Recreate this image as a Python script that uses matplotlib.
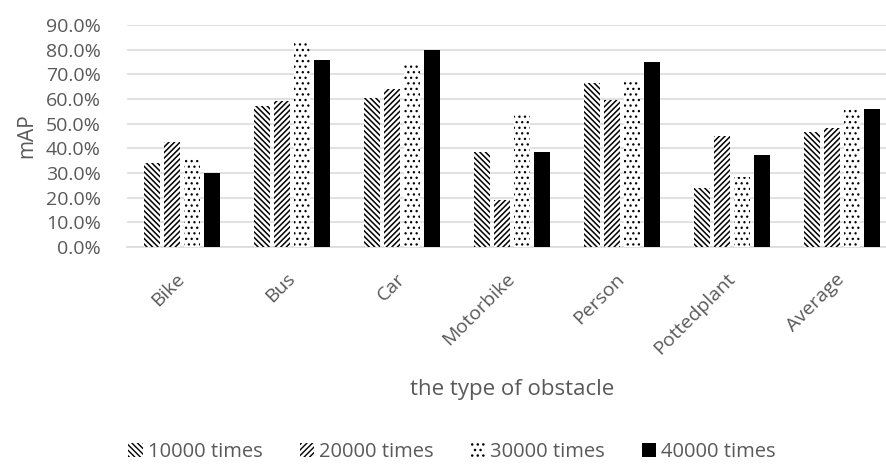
import numpy as np
import matplotlib
matplotlib.use('Agg')
import matplotlib.pyplot as plt
from matplotlib.ticker import FuncFormatter

categories = ['Bike', 'Bus', 'Car', 'Motorbike', 'Person', 'Pottedplant', 'Average']
series_names = ['10000 times', '20000 times', '30000 times', '40000 times']

# mAP in percent
map_10000 = [34.0, 57.2, 60.3, 38.4, 66.4, 23.8, 46.8]
map_20000 = [42.4, 59.2, 64.1, 19.1, 59.6, 45.0, 48.4]
map_30000 = [35.5, 83.2, 74.5, 53.5, 67.0, 28.2, 56.6]
map_40000 = [30.0, 75.8, 79.9, 38.4, 75.0, 37.4, 56.1]

y_ticks = [0, 10, 20, 30, 40, 50, 60, 70, 80, 90]

plt.rcParams['font.family'] = ['Open Sans', 'DejaVu Sans']

text_gray = '#595959'
grid_gray = '#d9d9d9'

fig = plt.figure(figsize=(8.86, 4.70), dpi=100)
ax = fig.add_axes([127 / 886, 1 - 247 / 470, 770 / 886, 222 / 470])

x = np.arange(len(categories))
step = 20 / 110
width = 16 / 110
all_series = [map_10000, map_20000, map_30000, map_40000]
hatches = ['\\' * 6, '/' * 6, '...', None]
hatch_widths = [1.1, 1.1, 0.9, 1.0]

for i, (name, vals) in enumerate(zip(series_names, all_series)):
    offset = (i - 1.5) * step
    plt.rcParams['hatch.linewidth'] = hatch_widths[i]
    if hatches[i] is None:
        ax.bar(x + offset, vals, width, color='black', linewidth=0, label=name, zorder=3)
    else:
        ax.bar(x + offset, vals, width, facecolor='white', edgecolor='black',
               hatch=hatches[i], linewidth=0, label=name, zorder=3)

ax.set_xlim(-0.5, len(categories) - 0.5)
ax.set_ylim(0, 90)
ax.set_yticks(y_ticks)
ax.yaxis.set_major_formatter(FuncFormatter(lambda v, p: f'{v:.1f}%'))
ax.grid(axis='y', color=grid_gray, linewidth=1.1, zorder=0)
ax.set_axisbelow(True)

for side in ['top', 'right', 'left']:
    ax.spines[side].set_visible(False)
ax.spines['bottom'].set_color(grid_gray)
ax.spines['bottom'].set_linewidth(1.1)

ax.set_xticks(x)
ax.set_xticklabels(categories, rotation=45, ha='right', va='center',
                   rotation_mode='anchor')
ax.tick_params(axis='x', length=0, pad=21, labelsize=14, labelcolor=text_gray)
ax.tick_params(axis='y', length=0, pad=19, labelsize=14, labelcolor=text_gray)

ax.set_xlabel('the type of obstacle', fontsize=16, color=text_gray)
ax.xaxis.set_label_coords(0.5, -0.64)
ax.xaxis.label.set_verticalalignment('center')
ax.set_ylabel('mAP', fontsize=15, color=text_gray)
ax.yaxis.set_label_coords(-0.13, 0.5)
ax.yaxis.label.set_verticalalignment('center')

fig.legend(loc='center', bbox_to_anchor=(452 / 886, 1 - 452 / 470), ncol=4,
           frameon=False, fontsize=14.5, labelcolor=text_gray,
           handlelength=0.7, handleheight=0.7, handletextpad=0.25,
           columnspacing=1.85)

fig.savefig('out.png', dpi=100)
